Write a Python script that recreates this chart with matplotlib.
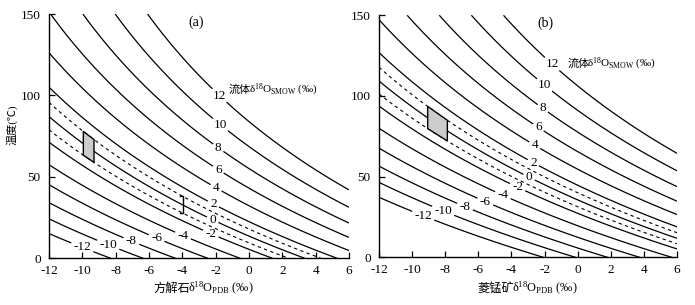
import numpy as np
import matplotlib
matplotlib.use('Agg')
import matplotlib.pyplot as plt

plt.rcParams['font.family'] = ['Liberation Serif', 'Noto Sans CJK SC']
plt.rcParams['mathtext.fontset'] = 'custom'
plt.rcParams['mathtext.rm'] = 'Liberation Serif'
plt.rcParams['mathtext.it'] = 'Liberation Serif:italic'

# fluid d18O (SMOW) isolines
fluid_levels = [-12, -10, -8, -6, -4, -2, 0, 2, 4, 6, 8, 10, 12]
range_levels = [-1, 1]

# 1000ln(alpha) = A*1e6/T^2 + B  (a: calcite-water, b: rhodochrosite-water, b)
coef_a = (2.78, -2.89)
coef_b = (3.39, -4.64)

# inline label positions (mineral d18O PDB, T)
lab_a_x = [-10.0, -8.45, -7.05, -5.55, -3.95, -2.2, -2.15, -2.15, -1.98, -1.86, -1.86, -1.74, -1.86]
lab_a_t = [6.8, 8.2, 10.8, 12.3, 14.3, 17.5, 24.4, 33.0, 43.2, 54.2, 67.7, 81.8, 99.0]
lab_b_x = [-9.32, -8.11, -6.80, -5.59, -4.48, -3.58, -2.91, -2.67, -2.57, -2.37, -2.07, -1.96, -1.56]
lab_b_t = [26.1, 29.2, 31.6, 34.3, 39.4, 44.6, 50.1, 58.9, 69.9, 80.5, 92.8, 107.3, 119.6]

# shaded sample ranges (mineral d18O PDB)
box_a = [-9.94, -9.30]
box_b = [-9.06, -7.87]
bracket_a = -3.98

xticks = [-12, -10, -8, -6, -4, -2, 0, 2, 4, 6]
yticks = [0, 50, 100, 150]


def fluid(x, t, coef):
    smow = 1.03091 * x + 30.91
    tk = t + 273.15
    return smow - (coef[0] * 1e6 / tk ** 2 + coef[1])


def temp(x, w, coef):
    smow = 1.03091 * np.asarray(x) + 30.91
    return np.sqrt(coef[0] * 1e6 / (smow - w - coef[1])) - 273.15


def two_part(x, y, cjk, math, fs, center=True):
    # CJK text + mathtext side by side (mathtext can't fall back to CJK fonts)
    t1 = fig.text(x, y, cjk, fontsize=fs, va='baseline')
    t2 = fig.text(x, y, math, fontsize=fs, va='baseline')
    fig.canvas.draw()
    r = fig.canvas.get_renderer()
    w1 = t1.get_window_extent(r).width / fig.bbox.width - 0.003
    w2 = t2.get_window_extent(r).width / fig.bbox.width
    x0 = x - (w1 + w2) / 2 if center else x
    t1.set_x(x0)
    t2.set_x(x0 + w1)


def panel(ax, coef, labx, labt, box, tag):
    xx, tt = np.meshgrid(np.linspace(-12, 6, 400), np.linspace(0, 150, 400))
    zz = fluid(xx, tt, coef)
    cs = ax.contour(xx, tt, zz, levels=fluid_levels, colors='k', linewidths=0.9,
                    negative_linestyles='solid')
    labels = ax.clabel(cs, fmt='%d', inline=True, fontsize=9.5, inline_spacing=3,
                       manual=list(zip(labx, labt)))
    for t in labels:
        t.set_rotation(0)
    ax.contour(xx, tt, zz, levels=range_levels, colors='k', linewidths=0.8,
               linestyles=[(0, (3, 3))], negative_linestyles=[(0, (3, 3))])
    bx = np.array(box)
    top = temp(bx, 1, coef)
    bot = temp(bx, -1, coef)
    ax.fill(np.r_[bx, bx[::-1]], np.r_[top, bot[::-1]], facecolor='#cccccc',
            edgecolor='k', linewidth=1.0, zorder=3)
    ax.text(tag[0], tag[1], tag[2], fontsize=10, ha='center', va='center')
    ax.set_xlim(-12, 6)
    ax.set_ylim(0, 150)
    ax.set_xticks(xticks)
    ax.set_yticks(yticks)
    ax.set_xticklabels([str(v) for v in xticks])
    ax.tick_params(direction='in', length=4, width=0.9, labelsize=9.5)
    ax.tick_params(axis='x', pad=5)
    ax.tick_params(axis='y', pad=6)
    for s in ['top', 'right']:
        ax.spines[s].set_visible(False)
    for s in ['left', 'bottom']:
        ax.spines[s].set_linewidth(1.0)


fig = plt.figure(figsize=(6.95, 3.05), dpi=100)
ax1 = fig.add_axes([0.0705, 0.153, 0.4317, 0.801])
ax2 = fig.add_axes([0.5453, 0.156, 0.4288, 0.794])

panel(ax1, coef_a, lab_a_x, lab_a_t, box_a, (-3.18, 145.1, '(a)'))
panel(ax2, coef_b, lab_b_x, lab_b_t, box_b, (-1.96, 145.1, '(b)'))

# bracket for range at -4 in (a)
bt = temp([bracket_a, bracket_a], np.array([-1, 1]), coef_a)
ax1.plot([bracket_a - 0.18, bracket_a, bracket_a, bracket_a - 0.18],
         [bt[1], bt[1], bt[0], bt[0]], color='k', lw=1.0)

fig.text(0.017, 0.59, '温度(℃)', fontsize=8, rotation=90, ha='center', va='center')

two_part(0.293, 0.043, '方解石', r'δ$^{18}$O$_{\rm PDB}$ (‰)', 8.8)
two_part(0.759, 0.043, '菱锰矿', r'δ$^{18}$O$_{\rm PDB}$ (‰)', 8.8)
two_part(0.3295, 0.695, '流体', r'δ$^{18}$O$_{\rm SMOW}$ (‰)', 8, center=False)
two_part(0.816, 0.780, '流体', r'δ$^{18}$O$_{\rm SMOW}$ (‰)', 8, center=False)

fig.savefig('out.png', dpi=100)
